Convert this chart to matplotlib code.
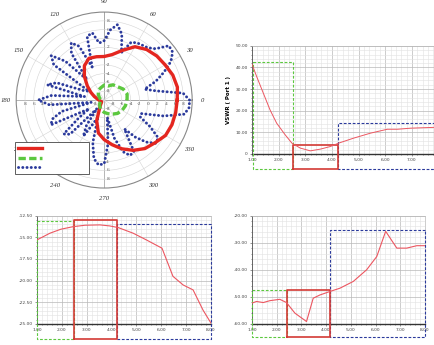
import numpy as np
import matplotlib.pyplot as plt
from matplotlib.ticker import MultipleLocator

# radiation pattern, dB
pat_angles = np.arange(0, 360, 10)
pat_main = [6.6, 6.9, 6.6, 6.0, 5.6, 5.0, 4.0, 2.0, 0.5, -0.1, 0.0, 0.1,
            -1.0, -3.0, -5.0, -6.5, -7.6, -8.4, -8.8, -9.0, -9.2, -9.3, -9.2, -8.8,
            -8.0, -5.0, -2.4, -1.0, 0.3, 1.8, 3.2, 4.4, 5.1, 6.1, 6.4, 6.5]
low_angles = np.arange(0, 360, 15)
pat_low = [-4.8, -4.6, -5.0, -5.7, -6.0, -6.7, -6.6, -7.1, -7.4, -8.1, -8.7, -9.1,
           -9.4, -9.1, -8.9, -8.5, -8.1, -7.6, -7.2, -6.8, -6.3, -5.7, -5.3, -5.0]
hi_angles = np.arange(0, 360, 5)
pat_high = [9.4, 8.0, 2.0, -0.5, 2.5, 5.0, 7.5, 9.0, 9.2, 6.5, 5.5, 5.2,
            5.0, 4.5, 1.5, 5.5, 7.4, 6.0, 3.5, 3.0, 5.5, 5.0, -2.0, 3.5,
            5.0, 3.0, -4.0, 2.5, 5.7, 4.0, -6.0, -5.0, 1.5, 3.4, -5.5, 2.0,
            5.0, 2.5, -7.0, 0.0, 2.5, 3.4, -6.0, -3.0, 2.0, 1.0, -7.5, -3.0,
            -0.5, -4.0, -6.0, 0.0, 3.5, 4.8, 4.5, 0.0, -6.0, -1.0, 2.5, 3.9,
            3.5, -2.0, 1.0, 3.5, 5.3, 5.0, 2.0, -1.0, -1.0, 4.0, 8.5, 9.4]
r_ticks = [-8, -6, -4, -2, 0, 2, 4, 6, 8]

# frequency sweeps (GHz)
vswr_f = [1.0, 1.18, 1.43, 1.68, 1.93, 2.25, 2.5, 2.81, 3.19, 3.57, 3.94, 4.26,
          4.82, 5.45, 6.08, 6.46, 6.96, 7.9]
vswr = [41.7, 35.8, 28.1, 20.4, 14.2, 8.8, 5.0, 2.7, 1.4, 2.2, 3.4, 5.0,
        7.3, 9.6, 11.4, 11.4, 11.9, 12.3]
gain_f = [1.0, 1.52, 1.96, 2.46, 2.93, 3.53, 3.93, 4.27, 4.87, 5.4, 6.03, 6.47,
          6.88, 7.28, 7.68, 8.0]
gain = [-15.3, -14.53, -14.07, -13.77, -13.61, -13.57, -13.69, -13.88, -14.53,
        -15.3, -16.26, -19.5, -20.5, -21.07, -23.4, -24.9]
iso_f = [1.0, 1.19, 1.46, 1.73, 2.13, 2.4, 2.74, 3.21, 3.48, 3.75, 4.16, 4.56,
         5.1, 5.64, 6.05, 6.41, 6.86, 7.26, 7.67, 8.0]
iso = [-52.3, -51.7, -52.1, -51.4, -50.9, -52.1, -56.0, -59.1, -50.5, -49.3,
       -48.0, -46.8, -44.3, -40.0, -35.1, -25.8, -32.0, -32.0, -31.1, -31.1]

# band masks: (f_lo, f_hi, top, bottom)
vswr_bands = [(1.03, 2.54, 42.5, -6.9), (2.54, 4.22, 3.9, -6.9), (4.22, 8.0, 14.2, -6.9)]
gain_bands = [(1.0, 2.49, -13.1, -26.75), (2.49, 4.2, -13.0, -26.75), (4.2, 8.0, -13.46, -26.75)]
iso_bands = [(1.0, 2.44, -47.4, -64.7), (2.44, 4.16, -47.4, -64.7), (4.16, 8.0, -25.4, -64.7)]

RED = "#e4261f"
GREEN = "#5cc83f"
BLUE = "#2b3a9c"
LINE = "#ec5660"

fig = plt.figure(figsize=(4.35, 3.45), dpi=100)

# ---- polar pattern ----
ax = fig.add_axes([0.037, 0.455, 0.405, 0.51], projection="polar")
ax.set_ylim(-10, 10)
ax.set_rticks(r_ticks)
ax.set_yticklabels([])
ax.set_thetagrids(range(0, 360, 30), [str(a) for a in range(0, 360, 30)],
                  fontsize=4.8, family="Liberation Serif", color="#333333",
                  style="italic")
ax.tick_params(axis="x", pad=-3)
ax.grid(color="#d4d4d4", lw=0.4)
ax.spines["polar"].set_color("#888888")
ax.spines["polar"].set_linewidth(0.8)
for a in (0, np.pi / 2):
    ax.plot([a, a + np.pi], [10, 10], color="#666666", lw=0.5, zorder=1)
    ax.plot([a, a], [-10, 10], color="#666666", lw=0.5, zorder=1)
for r in r_ticks:
    for a, dx, dy, ha, va in [(0, 0, -1.5, "center", "top"), (np.pi, 0, -1.5, "center", "top"),
                              (np.pi / 2, 1.5, 0, "left", "center"), (3 * np.pi / 2, 1.5, 0, "left", "center")]:
        ax.annotate(str(r), (a, r), xytext=(dx, dy), textcoords="offset points",
                    ha=ha, va=va, fontsize=3.8, color="#555555",
                    family="Liberation Serif")

th = np.deg2rad(np.append(pat_angles, 360))
thl = np.deg2rad(np.append(low_angles, 360))
thh = np.deg2rad(np.append(hi_angles, 360))
l1, = ax.plot(th, pat_main + pat_main[:1], color=RED, lw=2.4, zorder=4,
              solid_joinstyle="round")
l2, = ax.plot(thl, pat_low + pat_low[:1], color=GREEN, lw=2.4,
              dashes=(2.2, 1.0), zorder=4)
l3, = ax.plot(thh, pat_high + pat_high[:1], color=BLUE, lw=2.1,
              linestyle=(0, (0.05, 1.4)), dash_capstyle="round", zorder=3)

leg = fig.legend([l1, l2, l3], [" " * 18] * 3, loc="lower left",
                 bbox_to_anchor=(0.0345, 0.495), fontsize=5, handlelength=3.4,
                 labelspacing=0.55, fancybox=False, framealpha=1,
                 borderpad=0.5, handletextpad=0.4, borderaxespad=0)
leg.get_frame().set_edgecolor("#444444")
leg.get_frame().set_linewidth(0.6)
leg.set_zorder(10)


def style_rect(ax, xmaj, ymaj, ylim, xlim, fmt="{:.2f}"):
    ax.set_xlim(*xlim)
    ax.set_ylim(*ylim)
    ax.xaxis.set_major_locator(MultipleLocator(xmaj))
    ax.xaxis.set_minor_locator(MultipleLocator(xmaj / 5))
    ax.yaxis.set_major_locator(MultipleLocator(ymaj))
    ax.yaxis.set_minor_locator(MultipleLocator(ymaj / 5))
    ax.xaxis.set_major_formatter(lambda v, p: fmt.format(v))
    ax.yaxis.set_major_formatter(lambda v, p: fmt.format(v))
    ax.grid(which="major", color="#b8b8b8", lw=0.5)
    ax.grid(which="minor", color="#e2e2e2", lw=0.4)
    ax.tick_params(which="both", labelsize=3.2, colors="#444444", length=1.5,
                   width=0.4, pad=1.5, direction="out")
    ax.tick_params(which="minor", length=0.8)
    for s in ("top", "right"):
        ax.spines[s].set_color("#b8b8b8")
        ax.spines[s].set_linewidth(0.5)
    ax.spines["left"].set_color("#555555")
    ax.spines["left"].set_linewidth(0.6)
    ax.spines["bottom"].set_color("#333333")
    ax.spines["bottom"].set_linewidth(1.0)
    ax.set_axisbelow(True)


def draw_bands(ax, bands):
    (g0, g1, gt, gb), (r0, r1, rt, rb), (b0, b1, bt, bb) = bands
    ax.plot([g0, g1, g1, g0, g0], [gt, gt, gb, gb, gt], color=GREEN, lw=0.8,
            dashes=(2.5, 1.5), clip_on=False, zorder=3)
    ax.plot([r0, r0, r1, r1, r0], [rb, rt, rt, rb, rb], color="#d33a35", lw=1.2,
            clip_on=False, zorder=4)
    ax.plot([b1, b0, b0, b1, b1], [bt, bt, bb, bb, bt], color=BLUE, lw=0.8,
            dashes=(2.5, 1.5), clip_on=False, zorder=3)


# ---- VSWR ----
ax1 = fig.add_axes([0.579, 0.554, 0.423, 0.313])
style_rect(ax1, 1, 10, (0, 50), (1, 7.9))
ax1.yaxis.set_major_formatter(lambda v, p: "0" if v == 0 else f"{v:.2f}")
ax1.plot(vswr_f, vswr, color=LINE, lw=0.7, zorder=5)
draw_bands(ax1, vswr_bands)
ax1.set_ylabel("VSWR ( Port 1 )", fontsize=4, fontweight="bold", labelpad=3)

# ---- gain ----
ax2 = fig.add_axes([0.085, 0.061, 0.4, 0.314])
style_rect(ax2, 1, 2.5, (-25, -12.5), (1, 8))
ax2.plot(gain_f, gain, color=LINE, lw=0.8, zorder=5)
draw_bands(ax2, gain_bands)

# ---- isolation ----
ax3 = fig.add_axes([0.579, 0.061, 0.398, 0.314])
style_rect(ax3, 1, 10, (-60, -20), (1, 8))
ax3.plot(iso_f, iso, color=LINE, lw=0.8, zorder=5)
draw_bands(ax3, iso_bands)

fig.savefig("out.png", dpi=100)
